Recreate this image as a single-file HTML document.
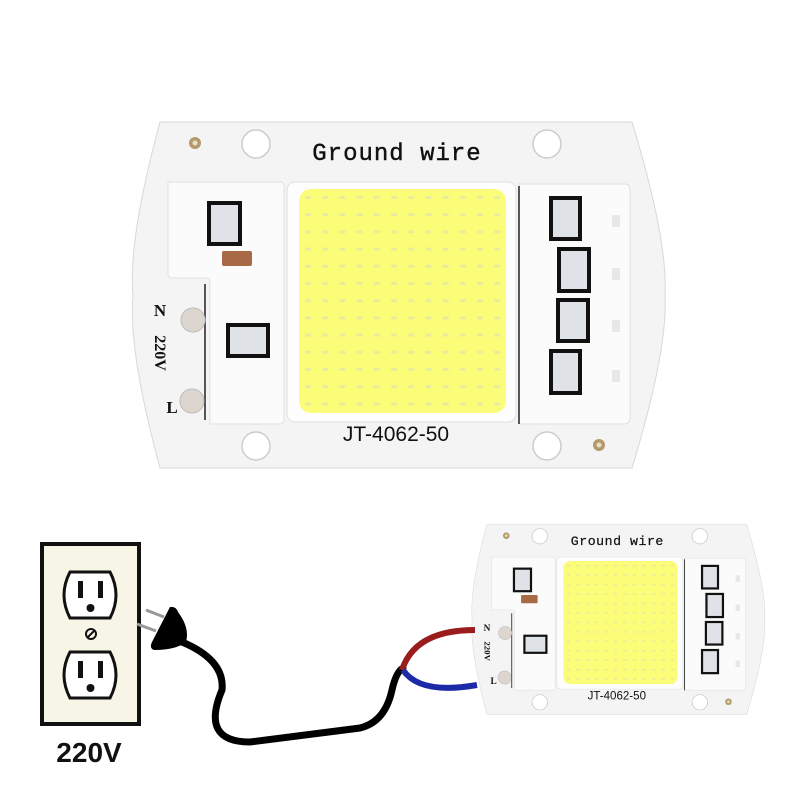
<!DOCTYPE html>
<html><head><meta charset="utf-8"><style>
html,body{margin:0;padding:0;background:#fff;width:800px;height:800px;overflow:hidden}
</style></head><body>
<svg width="800" height="800" viewBox="0 0 800 800" xmlns="http://www.w3.org/2000/svg">
<defs>
<pattern id="dots" x="299" y="189" width="17.2" height="17.2" patternUnits="userSpaceOnUse">
<rect x="6" y="7" width="6" height="3" fill="#e8ec9a"/>
</pattern>
<g id="board">
<path d="M160,122 L632,122 Q668,240 665,295 Q668,350 632,468 L160,468 Q128,350 133,295 Q128,240 160,122 Z" fill="#f4f4f4" stroke="#d8d8d8" stroke-width="1"/>
<circle cx="256" cy="144" r="14" fill="#fff" stroke="#ccc" stroke-width="1.5"/>
<circle cx="547" cy="144" r="14" fill="#fff" stroke="#ccc" stroke-width="1.5"/>
<circle cx="256" cy="446" r="14" fill="#fff" stroke="#ccc" stroke-width="1.5"/>
<circle cx="547" cy="446" r="14" fill="#fff" stroke="#ccc" stroke-width="1.5"/>
<circle cx="195" cy="143" r="6" fill="#b49a6a"/><circle cx="195" cy="143" r="2.5" fill="#e8e0c8"/>
<circle cx="599" cy="445" r="6" fill="#b49a6a"/><circle cx="599" cy="445" r="2.5" fill="#e8e0c8"/>
<text x="397" y="160" font-family="Liberation Mono, monospace" font-size="24" text-anchor="middle" fill="#111" letter-spacing="1" stroke="#111" stroke-width="0.4">Ground wire</text>
<path d="M168,182 L280,182 Q284,182 284,186 L284,420 Q284,424 280,424 L210,424 L210,282 Q210,278 206,278 L172,278 Q168,278 168,274 Z" fill="#fbfbfb" stroke="#e0e0e0"/>
<line x1="205" y1="284" x2="205" y2="420" stroke="#222" stroke-width="1.5"/>
<rect x="209" y="203" width="31" height="41" fill="#dfe2e6" stroke="#111" stroke-width="4"/>
<rect x="222" y="251" width="30" height="15" rx="2" fill="#a86a45"/>
<rect x="228" y="325" width="40" height="31" fill="#dfe2e6" stroke="#111" stroke-width="4"/>
<circle cx="193" cy="320" r="12" fill="#ddd6cf" stroke="#bbb"/>
<circle cx="192" cy="401" r="12" fill="#ddd6cf" stroke="#bbb"/>
<text x="160" y="316" font-family="Liberation Serif, serif" font-weight="bold" font-size="17" text-anchor="middle" fill="#111">N</text>
<text x="172" y="413" font-family="Liberation Serif, serif" font-weight="bold" font-size="17" text-anchor="middle" fill="#111">L</text>
<text transform="translate(155,353) rotate(90)" font-family="Liberation Serif, serif" font-weight="bold" font-size="16" text-anchor="middle" fill="#111">220V</text>
<rect x="287" y="182" width="229" height="240" rx="8" fill="#fdfdfd" stroke="#e0e0e0"/>
<rect x="299" y="189" width="207" height="224" rx="12" fill="#fbfd78"/>
<rect x="299" y="189" width="207" height="224" rx="12" fill="url(#dots)"/>
<path d="M519,184 L625,184 Q630,184 630,190 L630,418 Q630,424 624,424 L519,424 Z" fill="#fbfbfb" stroke="#e0e0e0"/>
<line x1="519" y1="186" x2="519" y2="424" stroke="#222" stroke-width="1.5"/>
<rect x="551" y="198" width="29" height="41" fill="#dfe2e6" stroke="#111" stroke-width="4"/>
<rect x="559" y="249" width="30" height="42" fill="#dfe2e6" stroke="#111" stroke-width="4"/>
<rect x="558" y="300" width="30" height="41" fill="#dfe2e6" stroke="#111" stroke-width="4"/>
<rect x="551" y="351" width="29" height="42" fill="#dfe2e6" stroke="#111" stroke-width="4"/>
<rect x="612" y="215" width="8" height="12" fill="#e8e8e8"/>
<rect x="612" y="268" width="8" height="12" fill="#e8e8e8"/>
<rect x="612" y="320" width="8" height="12" fill="#e8e8e8"/>
<rect x="612" y="370" width="8" height="12" fill="#e8e8e8"/>
<text x="396" y="441" font-family="Liberation Sans, sans-serif" font-size="21" text-anchor="middle" fill="#111">JT-4062-50</text>
</g>
</defs>
<use href="#board"/>
<use href="#board" transform="translate(399,457) scale(0.55)"/>
<!-- outlet -->
<rect x="42" y="544" width="97" height="180" fill="#f7f6e6" stroke="#111" stroke-width="4"/>
<g fill="#fff" stroke="#111" stroke-width="3">
<path d="M70,572 L110,572 Q122,595 110,618 L70,618 Q58,595 70,572 Z"/>
<path d="M70,652 L110,652 Q122,675 110,698 L70,698 Q58,675 70,652 Z"/>
</g>
<g fill="#111">
<rect x="78" y="581" width="5" height="17"/><rect x="98" y="581" width="5" height="17"/>
<circle cx="90.5" cy="608" r="4"/>
<rect x="78" y="661" width="5" height="17"/><rect x="98" y="661" width="5" height="17"/>
<circle cx="90.5" cy="688" r="4"/>
</g>
<circle cx="91" cy="634" r="5" fill="none" stroke="#111" stroke-width="2"/>
<line x1="88" y1="637" x2="94" y2="631" stroke="#111" stroke-width="2"/>
<text x="89" y="762" font-family="Liberation Sans, sans-serif" font-weight="bold" font-size="28" text-anchor="middle" fill="#111">220V</text>
<!-- plug -->
<line x1="146" y1="610" x2="164" y2="617" stroke="#999" stroke-width="3"/>
<line x1="137" y1="624" x2="156" y2="631" stroke="#999" stroke-width="3"/>
<path d="M170,607 Q176,606 178,612 Q190,628 186,642 Q176,650 154,650 Q149,648 152,642 Z" fill="#000"/>
<!-- cord -->
<path d="M182,642 Q225,660 222,690 Q200,742 250,742 L360,728 Q385,722 392,690 Q396,672 403,668" fill="none" stroke="#000" stroke-width="7" stroke-linecap="round"/>
<path d="M402,670 Q415,630 475,630" fill="none" stroke="#9a1c1c" stroke-width="6"/>
<path d="M403,670 Q420,695 477,685" fill="none" stroke="#1d2aa8" stroke-width="6"/>
</svg>
</body></html>
